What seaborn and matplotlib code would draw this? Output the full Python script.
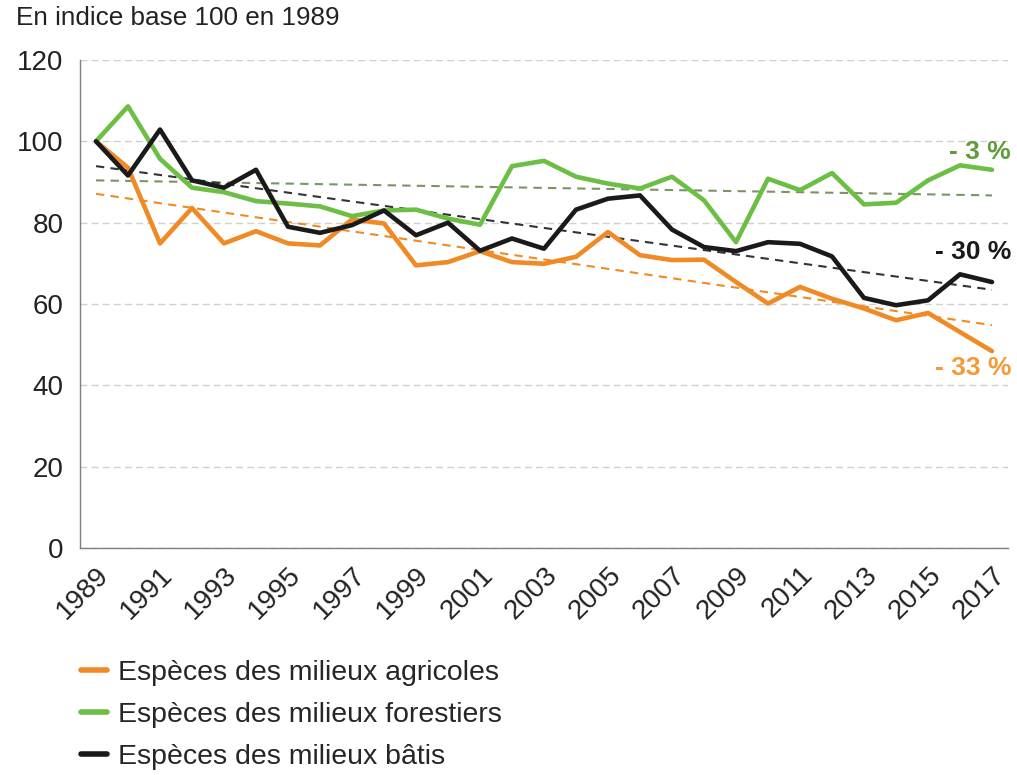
import numpy as np
import pandas as pd
import seaborn as sns
import matplotlib.pyplot as plt
import matplotlib.transforms as mtransforms
from matplotlib.lines import Line2D
from matplotlib.ticker import MultipleLocator

# valeurs (indice base 100 en 1989)
years = list(range(1989, 2018))
agricoles = [100, 93.5, 74.9, 83.6, 74.9, 77.9, 74.9, 74.4, 80.8, 79.8,
             69.5, 70.3, 73.0, 70.3, 69.9, 71.6, 77.7, 72.0, 70.8, 70.9,
             65.4, 60.1, 64.2, 61.3, 58.9, 56.0, 57.8, 53.1, 48.4]
forestiers = [100, 108.6, 95.7, 88.6, 87.5, 85.3, 84.7, 84.0, 81.6, 83.0,
              83.2, 81.0, 79.5, 93.9, 95.2, 91.3, 89.6, 88.4, 91.3, 85.5,
              75.2, 90.8, 88.0, 92.2, 84.5, 84.9, 90.4, 94.1, 93.0]
batis = [100, 91.6, 102.9, 90.4, 88.6, 93.0, 79.0, 77.5, 79.4, 83.0,
         76.9, 80.0, 73.1, 76.1, 73.6, 83.2, 85.9, 86.7, 78.3, 74.0,
         73.0, 75.2, 74.8, 71.7, 61.5, 59.7, 60.9, 67.3, 65.4]

series_names = ['Espèces des milieux agricoles', 'Espèces des milieux forestiers',
                'Espèces des milieux bâtis']
# tendances (début 1989, fin 2017)
trend_years = [1989, 2017]
trend_start = [87.1, 90.4, 93.9]
trend_end = [54.8, 86.7, 63.5]
evolution = ['- 33 %', '- 3 %', '- 30 %']
evolution_y = [44.2, 97.3, 72.7]

colors = ['#F08A24', '#6DBE45', '#1A1A1A']
trend_colors = ['#F08A24', '#7A9466', '#333333']
label_colors = ['#F39A36', '#5E9E3A', '#1A1A1A']

df = pd.DataFrame({'Année': years * 3,
                   'Indice': agricoles + forestiers + batis,
                   'Série': [s for s in series_names for _ in years]})

sns.set_style('white')
plt.rcParams['font.family'] = ['Liberation Sans', 'DejaVu Sans']

fig = plt.figure(figsize=(10.17, 7.75), dpi=100)
ax = fig.add_axes([80/1017, 1-548/775, 928/1017, 488/775])

# tendances en pointillés
for i in range(3):
    sns.lineplot(x=trend_years, y=[trend_start[i], trend_end[i]], ax=ax,
                 color=trend_colors[i], lw=1.5, linestyle=(0, (4, 3)), zorder=2)

sns.lineplot(data=df, x='Année', y='Indice', hue='Série', palette=colors,
             hue_order=series_names, lw=3.3, ax=ax, legend=False, zorder=3)

ax.set_xlim(1988.5, 2017.5)
ax.set_ylim(0, 120)
ax.set_xlabel('')
ax.set_ylabel('')

ax.yaxis.set_major_locator(MultipleLocator(20))
ax.yaxis.grid(True, linestyle=(0, (5, 3)), color='#d0d0d0', lw=1)
ax.set_axisbelow(True)

ax.set_xticks(years[::2])
ax.set_xticks(np.arange(1988.5, 2018, 1), minor=True)
ax.set_xticklabels([str(y) for y in years[::2]], rotation=45, ha='right',
                   va='top', rotation_mode='anchor', fontsize=20, color='#222222')
offset = mtransforms.ScaledTranslation(3/72, 0, fig.dpi_scale_trans)
for lab in ax.get_xticklabels():
    lab.set_transform(lab.get_transform() + offset)
ax.tick_params(axis='x', which='major', length=0, pad=10)
ax.tick_params(axis='x', which='minor', length=5, width=1, color='#7f7f7f', direction='out')
ax.tick_params(axis='y', length=6, width=1, color='#7f7f7f', direction='out',
               labelsize=20, labelcolor='#222222', pad=6)

for s in ['top', 'right']:
    ax.spines[s].set_visible(False)
for s in ['left', 'bottom']:
    ax.spines[s].set_color('#7f7f7f')
    ax.spines[s].set_linewidth(1)

for i in range(3):
    ax.text(2017.6, evolution_y[i], evolution[i], ha='right', va='center',
            fontsize=19, fontweight='bold', color=label_colors[i])

fig.text(16/1017, 1-18/775, 'En indice base 100 en 1989', ha='left', va='center',
         fontsize=18.8, color='#222222')

handles = [Line2D([0], [0], color=c, lw=4) for c in colors]
fig.legend(handles, series_names, loc='upper left', bbox_to_anchor=(67/1017, 1-646/775),
           frameon=False, fontsize=20.5, handlelength=0.92, handletextpad=0.36,
           labelspacing=0.56, borderpad=0)

fig.savefig('out.png', dpi=100)
